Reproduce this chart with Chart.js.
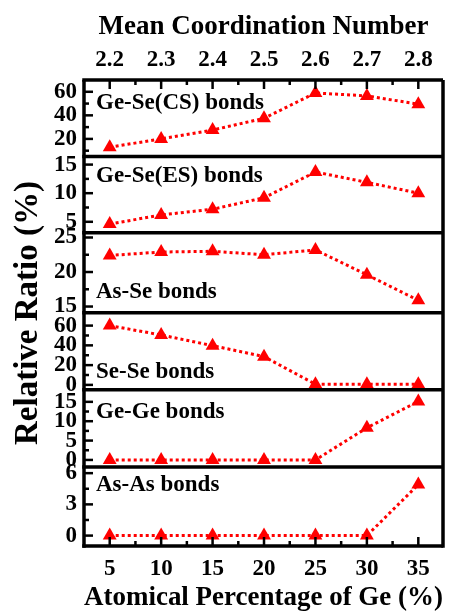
<!DOCTYPE html>
<html>
<head>
<meta charset="utf-8">
<script src="https://cdn.jsdelivr.net/npm/chart.js@4.4.0/dist/chart.umd.min.js"></script>
<style>
  html, body { margin: 0; padding: 0; background: #fff; }
  canvas { display: block; }
</style>
</head>
<body>
<canvas id="bondChart" width="451" height="612"></canvas>
<script>
// Ge content (bottom axis) and mean coordination number (top axis)
const geAtomic = [5, 10, 15, 20, 25, 30, 35];
const geMinorTicks = [7.5, 12.5, 17.5, 22.5, 27.5, 32.5];
const coordLabels = ['2.2', '2.3', '2.4', '2.5', '2.6', '2.7', '2.8'];

// relative ratio of each bond type (%), top panel first
const geSeCS = [13, 20, 27.5, 37.5, 59, 56.5, 49.5];
const geSeES = [4.6, 6.2, 7.2, 9.2, 13.7, 11.9, 10.0];
const asSe = [22.4, 22.9, 23.0, 22.5, 23.2, 19.6, 15.9];
const seSe = [60, 50.5, 39.7, 28.6, 0.7, 0.7, 0.7];
const geGe = [0, 0, 0, 0, 0, 8.3, 15.1];
const asAs = [0, 0, 0, 0, 0, 0, 4.9];

const panelNames = ['Ge-Se(CS) bonds', 'Ge-Se(ES) bonds', 'As-Se bonds', 'Se-Se bonds', 'Ge-Ge bonds', 'As-As bonds'];
const panelMajorTicks = [[20, 40, 60], [5, 10, 15], [15, 20, 25], [0, 20, 40, 60], [0, 5, 10, 15], [0, 3, 6]];
const panelMinorTicks = [[10, 30, 50], [7.5, 12.5], [17.5, 22.5], [10, 30, 50], [2.5, 7.5, 12.5], [1.5, 4.5]];
const panelRanges = [[5, 70], [3.1, 16.4], [14.1, 25.7], [-5, 73], [-1.8, 18.1], [-1, 6.6]];

const series = [geSeCS, geSeES, asSe, seSe, geGe, asAs];

// layout bits
const FONT = '"Liberation Serif", "Times New Roman", serif';
const panelWeights = [76.5, 76, 80, 77, 77, 79];
const labelOffsets = [23, 19, 59, 59, 22, 18];

const tickFont = { family: FONT, size: 23, weight: 'bold' };
const titleFont = { family: FONT, size: 27, weight: 'bold', lineHeight: 1 };

const scales = {
  x: {
    type: 'linear',
    position: 'bottom',
    min: 2.5,
    max: 37.4,
    grid: { display: false, drawTicks: false },
    border: { display: false },
    afterFit: (s) => { s.height = 66; },
    afterBuildTicks: (s) => {
      s.ticks = geAtomic.concat(geMinorTicks).sort((a, b) => a - b).map((v) => ({ value: v }));
    },
    ticks: {
      autoSkip: false,
      maxRotation: 0,
      padding: 9,
      color: '#000',
      font: tickFont,
      callback: (v) => (geAtomic.includes(v) ? String(v) : ''),
    },
    title: {
      display: true,
      text: 'Atomical Percentage of Ge (%)',
      color: '#000',
      font: titleFont,
      padding: { top: 0, bottom: 0 },
    },
  },
  x2: {
    type: 'linear',
    position: 'top',
    min: 2.5,
    max: 37.4,
    grid: { display: false, drawTicks: false },
    border: { display: false },
    afterFit: (s) => { s.height = 80; },
    afterBuildTicks: (s) => {
      s.ticks = geAtomic.concat(geMinorTicks).sort((a, b) => a - b).map((v) => ({ value: v }));
    },
    ticks: {
      autoSkip: false,
      maxRotation: 0,
      padding: 6,
      color: '#000',
      font: tickFont,
      callback: (v) => {
        const k = geAtomic.indexOf(v);
        return k >= 0 ? coordLabels[k] : '';
      },
    },
    title: {
      display: true,
      text: 'Mean Coordination Number',
      color: '#000',
      font: titleFont,
      padding: { top: 14, bottom: 0 },
    },
  },
};

// left axes are stacked; Chart.js puts the last one added at the top,
// so add the bottom panel first
for (let i = series.length - 1; i >= 0; i--) {
  scales['y' + i] = {
    type: 'linear',
    position: 'left',
    stack: 'panels',
    stackWeight: panelWeights[i],
    min: panelRanges[i][0],
    max: panelRanges[i][1],
    grid: { display: false, drawTicks: false },
    border: { display: false },
    afterFit: (s) => { s.width = 40; },
    afterBuildTicks: (s) => {
      s.ticks = panelMajorTicks[i].concat(panelMinorTicks[i]).sort((a, b) => a - b).map((v) => ({ value: v }));
    },
    ticks: {
      autoSkip: false,
      padding: 7,
      color: '#000',
      font: tickFont,
      callback: (v) => (panelMajorTicks[i].includes(v) ? String(v) : ''),
    },
  };
}

// frame, inward ticks, panel names and the shared y title
const panelFrame = {
  id: 'panelFrame',
  afterDraw(chart) {
    const { ctx, chartArea: a } = chart;
    const line = (x1, y1, x2, y2) => {
      ctx.beginPath();
      ctx.moveTo(x1, y1);
      ctx.lineTo(x2, y2);
      ctx.stroke();
    };
    ctx.save();
    ctx.strokeStyle = '#000';
    ctx.fillStyle = '#000';

    ctx.lineWidth = 2.5;
    const xs = chart.scales.x;
    for (const t of xs.ticks) {
      const px = xs.getPixelForValue(t.value);
      const len = geAtomic.includes(t.value) ? 9 : 5;
      line(px, a.bottom, px, a.bottom - len);
      line(px, a.top, px, a.top + len);
    }
    series.forEach((vals, i) => {
      const ys = chart.scales['y' + i];
      for (const t of ys.ticks) {
        const py = ys.getPixelForValue(t.value);
        const len = panelMajorTicks[i].includes(t.value) ? 9 : 5;
        line(a.left, py, a.left + len, py);
      }
    });

    ctx.lineWidth = 3.5;
    line(a.left - 1.75, a.top, a.right, a.top);
    series.forEach((vals, i) => {
      const ys = chart.scales['y' + i];
      line(a.left - 1.75, ys.bottom, a.right, ys.bottom);
    });
    line(a.left, a.top, a.left, a.bottom + 1.75);
    line(a.right, a.top, a.right, a.bottom + 1.75);

    ctx.font = 'bold 23px ' + FONT;
    ctx.textAlign = 'left';
    ctx.textBaseline = 'middle';
    panelNames.forEach((name, i) => {
      const ys = chart.scales['y' + i];
      ctx.fillText(name, a.left + 12, ys.top + labelOffsets[i]);
    });

    ctx.font = 'bold 33px ' + FONT;
    ctx.textAlign = 'center';
    ctx.translate(28, (a.top + a.bottom) / 2);
    ctx.rotate(-Math.PI / 2);
    ctx.fillText('Relative Ratio (%)', 0, 0);
    ctx.restore();
  },
};

const chart = new Chart(document.getElementById('bondChart'), {
  type: 'line',
  data: {
    datasets: series.map((vals, i) => ({
      label: panelNames[i],
      data: geAtomic.map((g, k) => ({ x: g, y: vals[k] })),
      xAxisID: 'x',
      yAxisID: 'y' + i,
      borderColor: '#ff0000',
      backgroundColor: '#ff0000',
      borderWidth: 3,
      borderDash: [3, 3],
      pointStyle: 'triangle',
      pointRadius: 8,
      pointHoverRadius: 8,
      pointBorderWidth: 0,
      fill: false,
      tension: 0,
      clip: false,
    })),
  },
  options: {
    responsive: false,
    animation: false,
    devicePixelRatio: 1,
    layout: { padding: { left: 44, right: 0, top: 0, bottom: 0 } },
    plugins: {
      legend: { display: false },
      tooltip: { enabled: false },
    },
    scales: scales,
  },
  plugins: [panelFrame],
});
</script>
</body>
</html>
